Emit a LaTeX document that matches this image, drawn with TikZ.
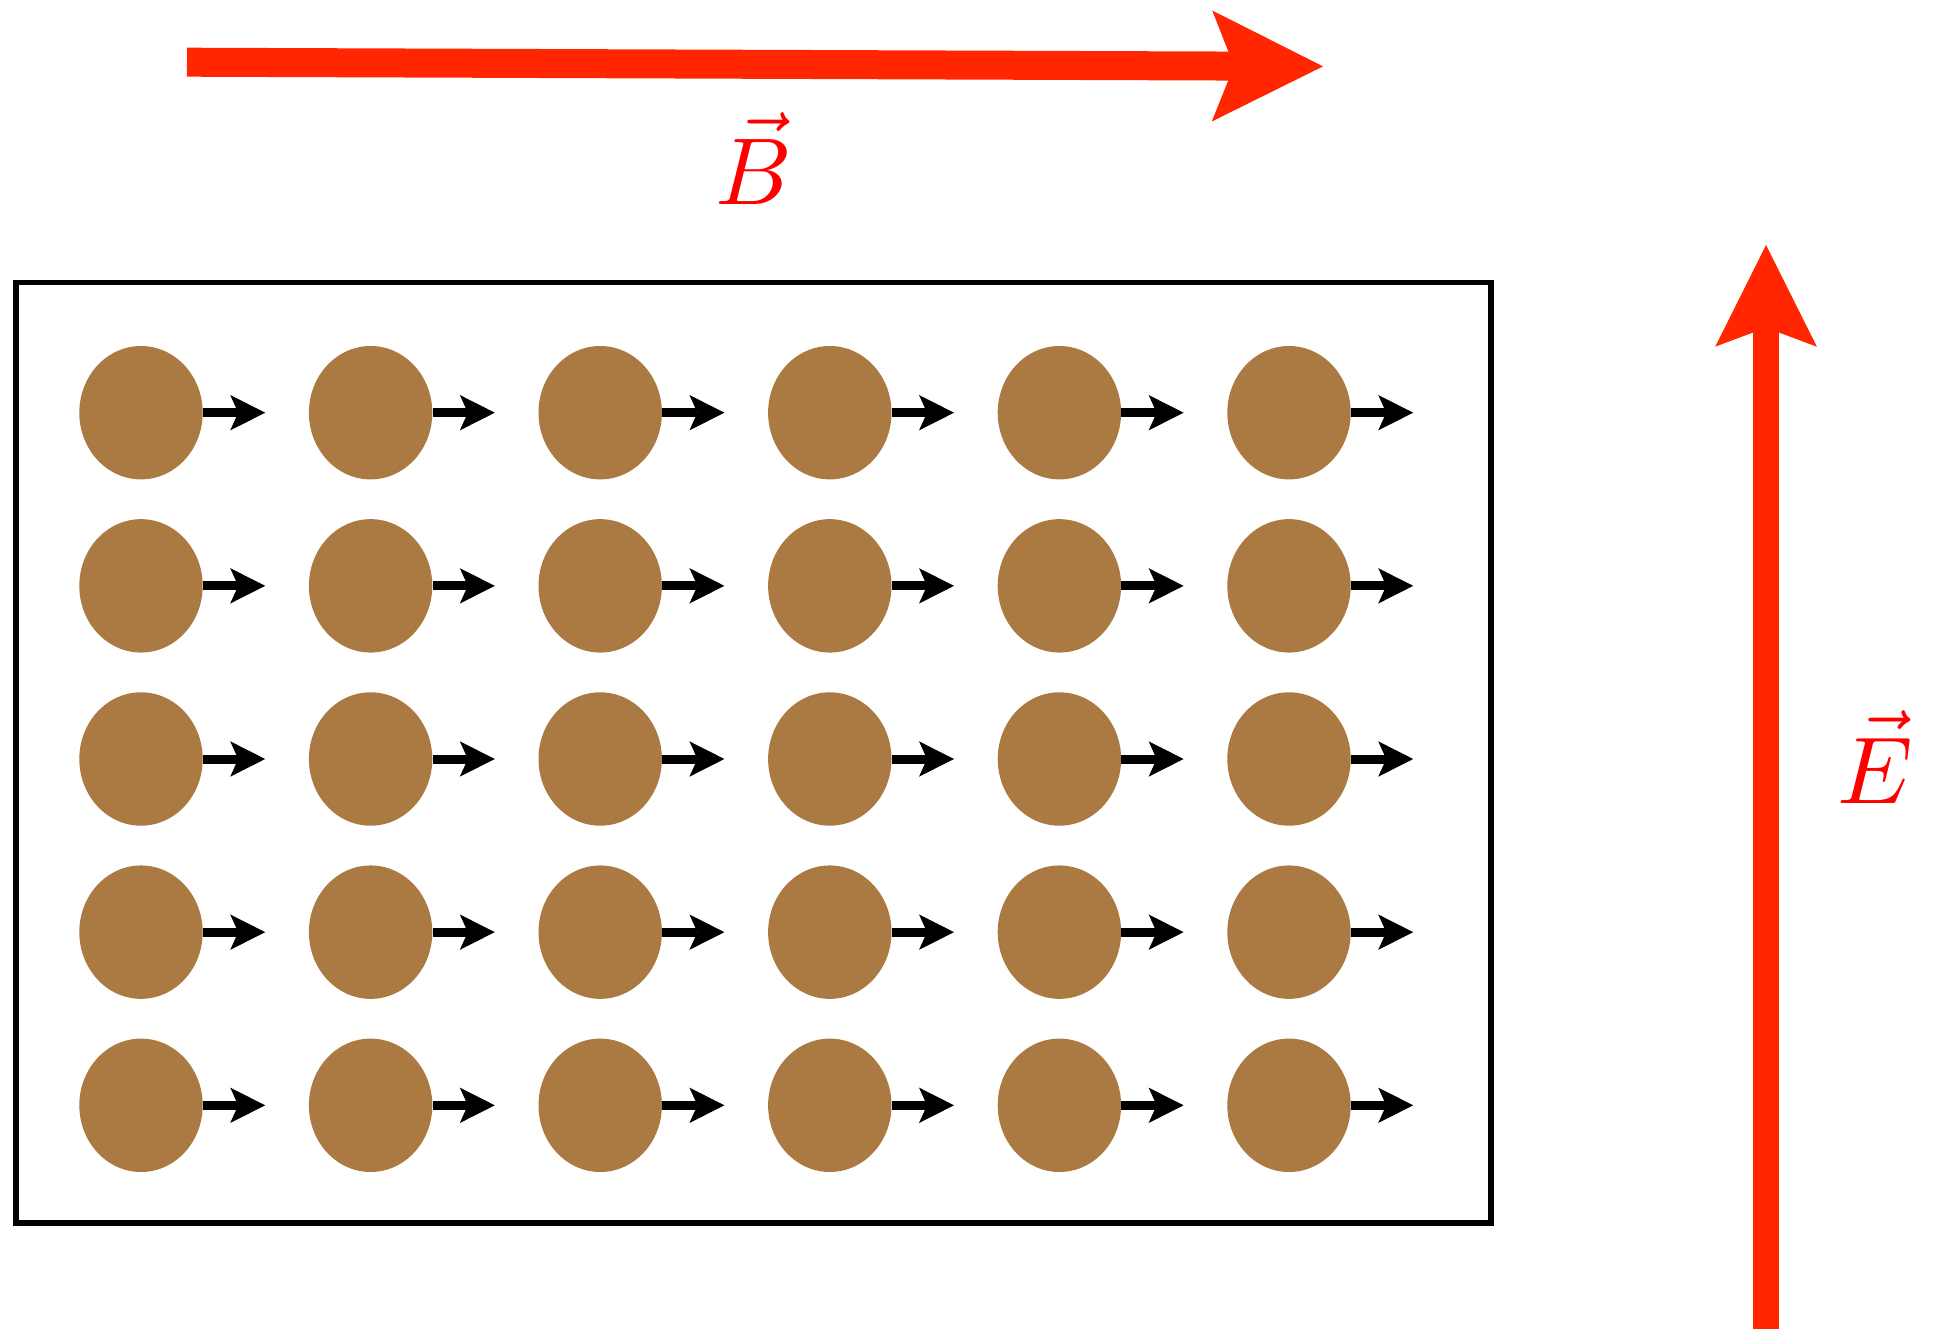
\documentclass[tikz,border=0pt]{standalone}
\usetikzlibrary{arrows.meta,shapes.geometric,calc}
\definecolor{fieldred}{RGB}{255,38,0}
\definecolor{labelred}{RGB}{255,0,0}
\definecolor{grain}{RGB}{170,122,66}
\tikzset{
  particle/.style={ellipse,fill=grain,draw=none,inner sep=0pt,minimum width=123.4pt,minimum height=133.4pt},
  moment/.style={line width=9pt,-{Stealth[length=35pt,width=35.4pt,inset=8pt,line width=0pt]}},
  bigfield/.style={fieldred,line width=#1},
  fieldlabel/.style={text=labelred,scale=9.5,inner sep=0pt,anchor=base},
  frame/.style={line width=5.5pt,draw=black}
}
\begin{document}
\begin{tikzpicture}[x=1pt,y=-1pt]
\useasboundingbox (0,0) rectangle (1940,1329);
% sample frame
\draw[frame] (16,282.5) rectangle (1491,1223);
% particles with moments
\foreach \r in {0,...,4}{
  \foreach \c in {0,...,5}{
    \node[particle] (p-\r-\c) at ({141+229.6*\c},{412.7+173.15*\r}) {};
    \coordinate (t-\r-\c) at ($(p-\r-\c.east)+(62.3,0)$);
    \draw[moment] (p-\r-\c.east) -- (t-\r-\c);
  }
}
% B field
\coordinate (Btail) at (187,62.2);
\coordinate (Btip) at (1323,66.4);
\draw[bigfield=29pt,-{Stealth[length=111pt,width=111pt,inset=22pt,line width=0pt]}] (Btail) -- (Btip);
\node[fieldlabel] (B) at (754,205) {$\vec{B}$};
% E field
\coordinate (Etail) at (1766,1329);
\coordinate (Etip) at (1766,245);
\draw[bigfield=26.7pt,-{Stealth[length=101.7pt,width=101.7pt,inset=19pt,line width=0pt]}] (Etail) -- (Etip);
\node[fieldlabel] (E) at (1875,803) {$\vec{E}$};
\end{tikzpicture}
\end{document}
